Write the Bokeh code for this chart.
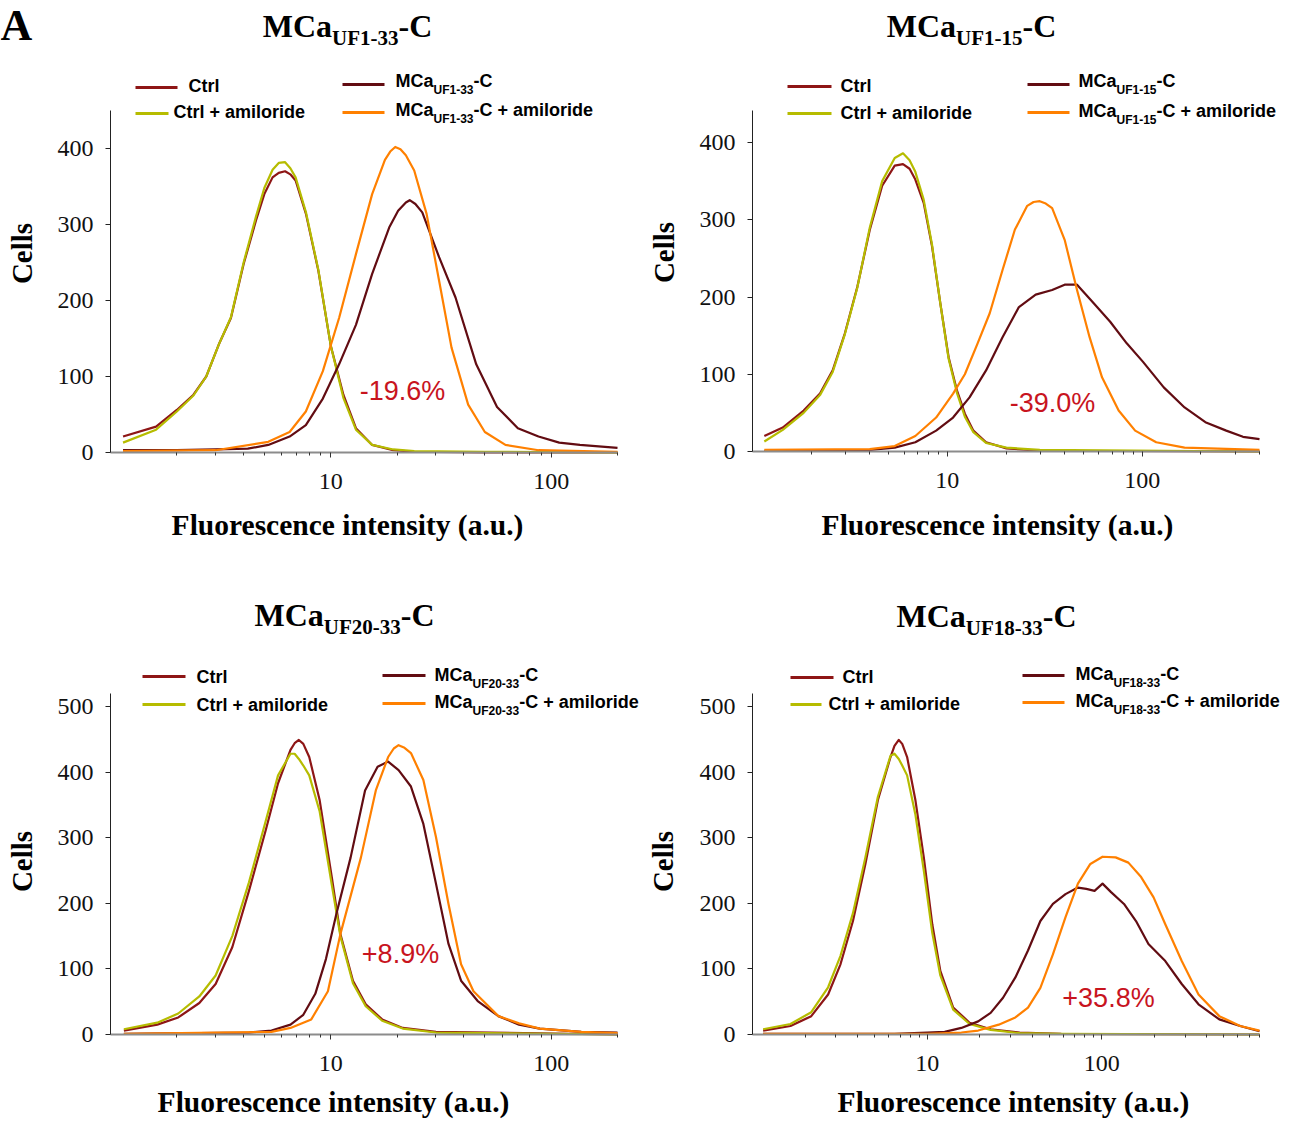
import math
from bokeh.plotting import figure
from bokeh.models import Label, BoxAnnotation, Range1d, FixedTicker, PrintfTickFormatter
from bokeh.layouts import column, row
from bokeh.embed import file_html
from bokeh.resources import INLINE

# ---------------- data ----------------
series_names = ["Ctrl", "Ctrl + amiloride", "MCa", "MCa + amiloride"]
peptides = ["UF1-33", "UF1-15", "UF20-33", "UF18-33"]
changes = ["-19.6%", "-39.0%", "+8.9%", "+35.8%"]
y_ticks_top = [0, 100, 200, 300, 400]
y_ticks_bottom = [0, 100, 200, 300, 400, 500]
x_ticks = [10, 100]
x_tick_labels = ["10", "100"]

# Panel 1 : MCa UF1-33
p1_ctrl_x = [1.14, 1.61, 2.0, 2.38, 2.72, 3.1, 3.52, 4.02, 4.57, 4.99, 5.44, 5.8, 6.2, 6.55, 6.92, 7.71, 8.78, 10, 11.4, 13, 15.4, 19.2, 23.9, 50, 200]
p1_ctrl_y = [21, 34, 56, 76, 100, 142, 177, 248, 305, 340, 362, 368, 370, 366, 358, 314, 239, 140, 76, 32, 10, 3, 1, 0, 0]
p1_ctrlam_y = [13, 30, 54, 75, 100, 142, 178, 250, 310, 348, 372, 381, 382, 374, 362, 316, 240, 140, 72, 30, 10, 4, 2, 1, 0]
p1_mca_x = [1.14, 2, 3, 4.2, 5.2, 6.5, 7.7, 9.2, 10.9, 13.0, 15.4, 18.4, 20.2, 21.9, 22.8, 24.2, 26, 31, 36.8, 45.7, 56.8, 70.6, 87.6, 108.8, 135, 200]
p1_mca_y = [3, 3, 4, 5, 10, 21, 36, 71, 116, 168, 235, 296, 318, 329, 332, 327, 316, 257, 204, 116, 60, 32, 21, 13, 10, 6]
p1_mcaam_x = [1.14, 3, 5.2, 6.5, 7.7, 9.2, 10.9, 13, 15.4, 17.6, 18.6, 19.6, 20.7, 21.9, 23.9, 27.2, 31, 35.3, 42, 50, 62, 87.6, 200]
p1_mcaam_y = [2, 3, 14, 27, 54, 107, 177, 261, 340, 385, 396, 402, 399, 391, 371, 314, 226, 138, 63, 27, 10, 3, 1]

# Panel 2 : MCa UF1-15
p2_ctrl_x = [1.15, 1.43, 1.83, 2.22, 2.58, 2.98, 3.45, 4.0, 4.63, 5.37, 5.92, 6.4, 6.85, 7.56, 8.34, 9.2, 10.15, 11.2, 12.3, 13.6, 15.8, 20.1, 29.8, 400]
p2_ctrl_y = [20, 31, 53, 75, 105, 153, 213, 287, 344, 370, 372, 366, 352, 322, 266, 192, 122, 79, 49, 27, 12, 4, 1, 0]
p2_ctrlam_y = [13, 28, 50, 73, 103, 152, 212, 290, 350, 380, 386, 377, 362, 326, 268, 192, 120, 76, 45, 25, 11, 5, 2, 0]
p2_mca_x = [1.15, 4.0, 5.37, 6.85, 8.76, 10.7, 13.0, 15.8, 19.2, 23.3, 28.4, 34.5, 40, 46.3, 56.4, 68.5, 83.3, 101, 129, 165, 211, 270, 329, 400]
p2_mca_y = [1, 2, 5, 12, 27, 44, 70, 105, 148, 187, 203, 209, 216, 216, 192, 168, 140, 116, 83, 57, 38, 27, 19, 16]
p2_mcaam_x = [1.15, 4.0, 5.37, 6.85, 8.76, 10.7, 12.3, 14.3, 16.5, 19.2, 22.2, 25.7, 27.7, 29.8, 32, 34.5, 40, 46.3, 53.7, 62.2, 75.7, 92, 118, 165, 400]
p2_mcaam_y = [2, 3, 7, 20, 44, 75, 100, 140, 179, 235, 287, 318, 323, 324, 321, 315, 274, 209, 148, 96, 53, 27, 12, 5, 2]

# Panel 3 : MCa UF20-33
p3_ctrl_x = [1.15, 1.63, 2.03, 2.53, 3.0, 3.57, 4.25, 5.06, 5.76, 6.56, 6.85, 7.16, 7.5, 7.98, 8.9, 10.1, 11.05, 12.6, 14.4, 17.1, 21.2, 30, 200]
p3_ctrl_y = [6, 15, 26, 48, 77, 133, 219, 311, 383, 434, 444, 449, 443, 423, 357, 240, 153, 82, 46, 23, 10, 4, 0]
p3_ctrlam_y = [8, 18, 32, 58, 90, 150, 232, 325, 395, 428, 428, 420, 410, 395, 340, 228, 150, 78, 43, 21, 9, 3, 0]
p3_mca_x = [1.15, 4.25, 5.38, 6.56, 7.5, 8.5, 9.5, 10.6, 12.3, 14.3, 16.3, 18.2, 20.3, 23.1, 26.3, 30, 34.2, 39, 46.4, 57.6, 71.5, 88.8, 137, 200]
p3_mca_y = [1, 3, 6, 15, 30, 62, 115, 184, 270, 372, 408, 416, 403, 378, 321, 230, 138, 82, 51, 28, 15, 9, 4, 3]
p3_mcaam_x = [1.15, 5.38, 6.56, 8.15, 9.7, 11.05, 13.7, 16.0, 18.2, 19.3, 20.3, 21.6, 23.1, 26.3, 30, 34.2, 39, 44.4, 57.6, 71.5, 88.8, 137, 200]
p3_mcaam_y = [1, 4, 10, 23, 66, 153, 270, 372, 423, 436, 441, 437, 429, 388, 301, 199, 107, 66, 28, 17, 9, 4, 2]

# Panel 4 : MCa UF18-33
p4_ctrl_x = [1.15, 1.65, 2.17, 2.71, 3.19, 3.76, 4.43, 5.22, 6.17, 6.5, 6.88, 7.2, 7.68, 8.57, 9.57, 10.7, 11.9, 14.1, 17.5, 23.1, 33.9, 58.6, 800]
p4_ctrl_y = [6, 13, 28, 61, 107, 173, 260, 357, 423, 440, 449, 443, 423, 357, 270, 168, 97, 41, 18, 8, 3, 1, 0]
p4_ctrlam_y = [8, 16, 34, 72, 120, 185, 270, 362, 425, 428, 420, 410, 395, 335, 250, 155, 90, 38, 16, 7, 2, 1, 0]
p4_mca_x = [1.15, 6.5, 10, 12.6, 15.7, 19.6, 23.1, 27.2, 32, 37.8, 44.5, 52.5, 62, 73, 81.5, 90.9, 101, 113, 134, 157, 185, 231, 287, 358, 471, 620, 800]
p4_mca_y = [1, 1, 3, 4, 10, 20, 33, 56, 87, 128, 173, 199, 214, 224, 222, 219, 230, 217, 199, 173, 138, 112, 77, 46, 23, 13, 5]
p4_mcaam_x = [1.15, 10, 15.7, 19.6, 25.7, 32, 37.8, 44.5, 52.5, 62, 73, 86, 101, 120, 142, 168, 198, 231, 287, 358, 471, 620, 800]
p4_mcaam_y = [1, 1, 3, 6, 15, 26, 41, 71, 122, 179, 230, 260, 271, 270, 262, 240, 209, 168, 112, 61, 28, 13, 6]

# ---------------- styling ----------------
COL_CTRL = "#8E1616"
COL_CTRLAM = "#B6BC00"
COL_MCA = "#620C12"
COL_MCAAM = "#FF8000"
COL_PCT = "#C8141E"
SERIF = "Liberation Serif"
SANS = "Liberation Sans"
MID = {SERIF: 0.34, SANS: 0.35}   # em distance from alphabetic baseline to the em-box middle

TIMES_B = {'M': 944, 'C': 722, 'a': 500, 'U': 722, 'F': 611, '-': 333, ' ': 250}
ARIAL_B = {'M': 833, 'C': 722, 'a': 556, 'U': 722, 'F': 611, '-': 333, ' ': 278, '+': 584,
           'm': 889, 'i': 278, 'l': 278, 'o': 611, 'r': 389, 'd': 611, 'e': 556, 't': 333}


def tw(s, table, size, digit=500):
    return sum(table.get(c, digit) for c in s) * size / 1000.0


W, H = 647, 560

panels = [
    dict(fig=(0, 0), fl=110, fr=617, fb=452, ppu=0.76, xend=200, ybound=450, yt=y_ticks_top,
         title_c=347, title_b=36, leg=(87, 113, 92, 118, 84, 112, 87, 116),
         l1=(135, 177, 188), l2=(135, 168, 173), l3=(342, 384, 395),
         pct=(402, 390), xl=(347, 535), cells=(31, 253),
         data=(p1_ctrl_x, p1_ctrl_y, p1_ctrlam_y, p1_mca_x, p1_mca_y, p1_mcaam_x, p1_mcaam_y)),
    dict(fig=(W, 0), fl=752, fr=1259, fb=451, ppu=0.7725, xend=400, ybound=441, yt=y_ticks_top,
         title_c=971, title_b=36, leg=(86, 113, 92, 119, 84, 112, 87, 117),
         l1=(787, 831, 840), l2=(787, 831, 840), l3=(1027, 1069, 1078),
         pct=(1052, 402), xl=(997, 535), cells=(673, 252),
         data=(p2_ctrl_x, p2_ctrl_y, p2_ctrlam_y, p2_mca_x, p2_mca_y, p2_mcaam_x, p2_mcaam_y)),
    dict(fig=(0, H), fl=110, fr=617, fb=1034, ppu=0.656, xend=200, ybound=520, yt=y_ticks_bottom,
         title_c=344, title_b=625, leg=(676, 704, 683, 711, 675, 703, 681, 708),
         l1=(142, 185, 196), l2=(142, 185, 196), l3=(382, 425, 434),
         pct=(400, 953), xl=(333, 1112), cells=(31, 861),
         data=(p3_ctrl_x, p3_ctrl_y, p3_ctrlam_y, p3_mca_x, p3_mca_y, p3_mcaam_x, p3_mcaam_y)),
    dict(fig=(W, H), fl=752, fr=1259, fb=1034, ppu=0.656, xend=800, ybound=520, yt=y_ticks_bottom,
         title_c=986, title_b=626, leg=(677, 704, 683, 710, 675, 702, 680, 707),
         l1=(790, 833, 842), l2=(790, 821, 828), l3=(1022, 1064, 1075),
         pct=(1108, 997), xl=(1013, 1112), cells=(672, 861),
         data=(p4_ctrl_x, p4_ctrl_y, p4_ctrlam_y, p4_mca_x, p4_mca_y, p4_mcaam_x, p4_mcaam_y)),
]


def make_panel(i, cfg):
    fx, fy = cfg["fig"]
    fl, fr, fb = cfg["fl"], cfg["fr"], cfg["fb"]
    # frame covers the whole figure; axes are pinned with fixed_location
    dec = (fr - fl) / math.log10(cfg["xend"])
    x0 = 10 ** (-(fl - fx) / dec)
    x1 = 10 ** (math.log10(cfg["xend"]) + (fx + W - fr) / dec)
    y0 = -(fy + H - fb) / cfg["ppu"]
    y1 = (fb - fy) / cfg["ppu"]
    p = figure(width=W, height=H, x_axis_type="log", title=None,
               x_range=Range1d(x0, x1), y_range=Range1d(y0, y1),
               output_backend="svg", toolbar_location=None, min_border=0,
               min_border_left=0, min_border_right=0, min_border_top=0, min_border_bottom=0)
    p.outline_line_color = None
    p.grid.visible = False
    p.background_fill_color = "white"
    p.border_fill_color = "white"

    # y axis
    ya = p.yaxis[0]
    ya.fixed_location = 1
    ya.ticker = FixedTicker(ticks=cfg["yt"])
    ya.bounds = (0, cfg["ybound"])
    ya.axis_line_color = "#222222"
    ya.axis_line_width = 1
    ya.major_tick_line_color = "#222222"
    ya.major_tick_out = 5
    ya.major_tick_in = 0
    ya.minor_tick_line_color = None
    ya.major_label_text_font = SERIF
    ya.major_label_text_font_size = "24px"
    ya.major_label_text_color = "#111111"
    ya.major_label_standoff = 12

    # x axis
    xa = p.xaxis[0]
    xa.fixed_location = 0
    minors = [m * d for d in (1, 10, 100) for m in range(2, 10) if m * d <= cfg["xend"]]
    xa.ticker = FixedTicker(ticks=x_ticks, minor_ticks=minors)
    xa.formatter = PrintfTickFormatter(format="%d")
    xa.major_label_overrides = {t: l for t, l in zip(x_ticks, x_tick_labels)}
    xa.bounds = (1, cfg["xend"])
    xa.axis_line_color = "#8C8C8C"
    xa.axis_line_width = 2
    xa.major_tick_line_color = "#333333"
    xa.minor_tick_line_color = "#333333"
    xa.major_tick_out = 5
    xa.major_tick_in = 0
    xa.minor_tick_out = 3
    xa.minor_tick_in = 0
    xa.major_label_text_font = SERIF
    xa.major_label_text_font_size = "24px"
    xa.major_label_text_color = "#111111"
    xa.major_label_standoff = 16

    cx, cy, cay, mx, my, ax, ay = cfg["data"]
    p.line(cx, cy, line_color=COL_CTRL, line_width=2.2, line_join="round")
    p.line(cx, cay, line_color=COL_CTRLAM, line_width=2.2, line_join="round")
    p.line(mx, my, line_color=COL_MCA, line_width=2.2, line_join="round")
    p.line(ax, ay, line_color=COL_MCAAM, line_width=2.2, line_join="round")

    def put(X, Y, text, **kw):
        p.add_layout(Label(x=X - fx, y=fy + H - Y, x_units="screen", y_units="screen", text=text, **kw))

    def put_base(X, Yb, text, font, size, bold=True, color="black", align="left"):
        # place text by its alphabetic baseline (converted to the em-box middle)
        put(X, Yb - MID[font] * size, text, text_font=font, text_font_size=f"{size}px",
            text_font_style="bold" if bold else "normal", text_color=color,
            text_align=align, text_baseline="middle")

    def hline(xa1, xa2, Y, color):
        p.add_layout(BoxAnnotation(left=xa1 - fx, right=xa2 - fx, top=fy + H - Y + 1.5, bottom=fy + H - Y - 1.5,
                                   left_units="screen", right_units="screen",
                                   top_units="screen", bottom_units="screen",
                                   fill_color=color, fill_alpha=1.0, line_color=None))

    pep = peptides[i]
    # title: MCa_{pep}-C
    big, small = 32, 21
    w1 = tw("MCa", TIMES_B, big)
    w2 = tw(pep, TIMES_B, small)
    w3 = tw("-C", TIMES_B, big)
    t0 = cfg["title_c"] - (w1 + w2 + w3) / 2
    tb = cfg["title_b"]
    put_base(t0, tb, "MCa", SERIF, big)
    put_base(t0 + w1, tb + 9, pep, SERIF, small)
    put_base(t0 + w1 + w2, tb, "-C", SERIF, big)

    # legend
    ly1, ly2, tb1, tb2, my1, my2, mb1, mb2 = cfg["leg"]
    a1, a2, at = cfg["l1"]
    hline(a1, a2, ly1, COL_CTRL)
    put_base(at, tb1, series_names[0], SANS, 18)
    b1, b2, bt = cfg["l2"]
    hline(b1, b2, ly2, COL_CTRLAM)
    put_base(bt, tb2, series_names[1], SANS, 18)
    c1, c2, ct = cfg["l3"]
    for (Yl, Yb, tail, col) in ((my1, mb1, "-C", COL_MCA), (my2, mb2, "-C + amiloride", COL_MCAAM)):
        hline(c1, c2, Yl, col)
        wa = tw("MCa", ARIAL_B, 18, 556)
        wb = tw(pep, ARIAL_B, 12, 556)
        put_base(ct, Yb, "MCa", SANS, 18)
        put_base(ct + wa, Yb + 7, pep, SANS, 12)
        put_base(ct + wa + wb, Yb, tail, SANS, 18)

    # percent change
    px_, py_ = cfg["pct"]
    put(px_, py_, changes[i], text_font=SANS, text_font_size="27px", text_color=COL_PCT,
        text_align="center", text_baseline="middle")

    # axis titles
    xlx, xly = cfg["xl"]
    put_base(xlx, xly, "Fluorescence intensity (a.u.)", SERIF, 29.5, align="center")
    clx, cly = cfg["cells"]
    put(clx - MID[SERIF] * 29, cly, "Cells", text_font=SERIF, text_font_style="bold", text_font_size="29px",
        text_align="center", text_baseline="middle", angle=math.pi / 2, text_color="black")
    if i == 0:
        put_base(0, 40, "A", SERIF, 44)
    return p


figs = [make_panel(i, c) for i, c in enumerate(panels)]
layout = column(row(figs[0], figs[1], spacing=0), row(figs[2], figs[3], spacing=0), spacing=0)
open("out.html", "w").write(file_html(layout, INLINE))
